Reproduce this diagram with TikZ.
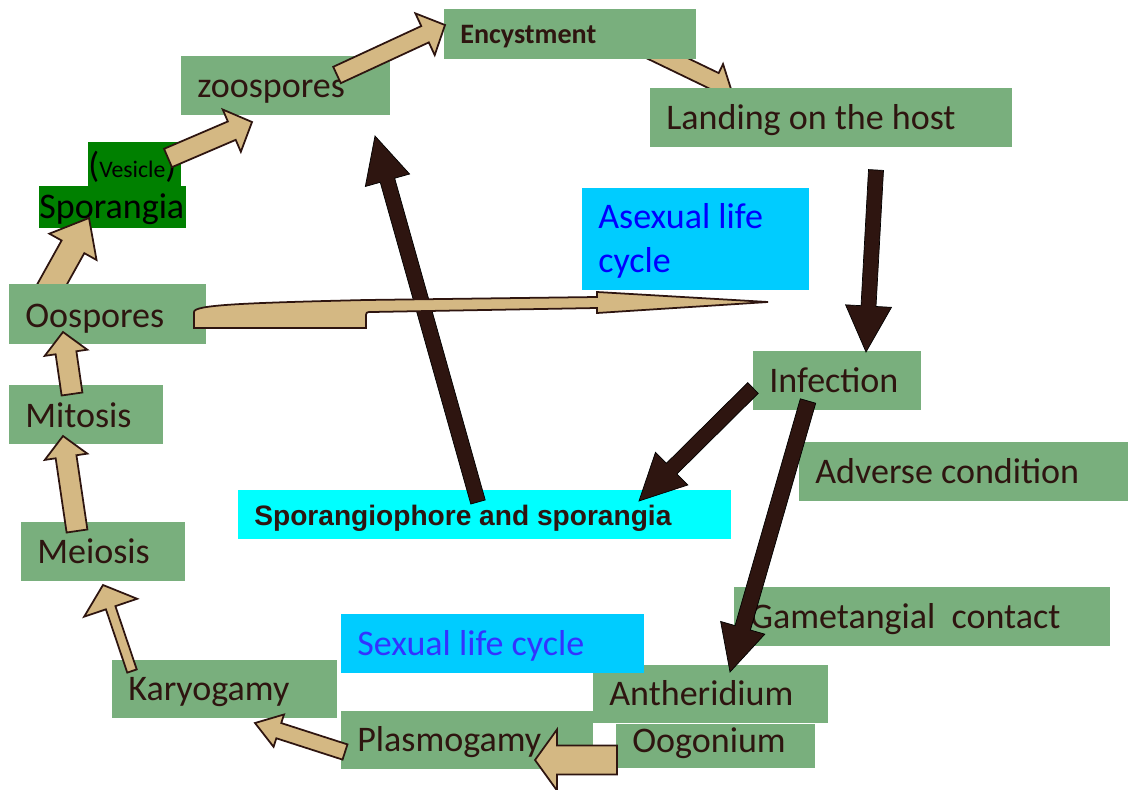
\documentclass[tikz,border=0pt]{standalone}
\usepackage{fontspec}
\setmainfont{Carlito}
\newfontfamily\arialfont{Liberation Sans}
\usepackage{tikz}
\usetikzlibrary{calc}
\usepackage{xcolor}

\definecolor{boxgreen}{HTML}{79AF7D}
\definecolor{sporegreen}{HTML}{008000}
\definecolor{skycyan}{HTML}{00CCFF}
\definecolor{brightcyan}{HTML}{00FFFF}
\definecolor{arrowtan}{HTML}{D4B883}
\definecolor{ink}{HTML}{2E1510}
\definecolor{lifeblue}{HTML}{0000FF}
\definecolor{sexblue}{HTML}{3333FF}

% block arrow: [style]{tail}{tip}{shaft half width}{head half width}{head length}
\newcommand{\blockarrow}[6][tanarrow]{%
  \coordinate (bah) at ($(#3)!#6!(#2)$);
  \filldraw[#1] ($(#2)!#4!90:(#3)$) -- ($(bah)!#4!90:(#3)$) -- ($(bah)!#5!90:(#3)$) -- (#3)
    -- ($(bah)!#5!-90:(#3)$) -- ($(bah)!#4!-90:(#3)$) -- ($(#2)!#4!-90:(#3)$) -- cycle;
}

\begin{document}
\begin{tikzpicture}[x=0.02cm, y=-0.02cm,
    greenbox/.style={fill=boxgreen, text=ink, anchor=north west, inner xsep=0.32cm, inner ysep=0pt,
      align=flush left, text height=0.82cm, text depth=0.36cm, font=\fontsize{20.5}{24.6}\selectfont},
    cyanbox/.style={greenbox, fill=skycyan},
    sporebox/.style={fill=sporegreen, text=black, anchor=north west, inner sep=0pt, align=flush left,
      font=\fontsize{20.5}{24.6}\selectfont},
    tanarrow/.style={fill=arrowtan, draw=ink, line width=1pt},
    darkarrow/.style={fill=ink}]
    \useasboundingbox (0,0) rectangle (1128,790);

    % Sporangia
    \node[sporebox, text width=1.86cm, text height=0.70cm, text depth=0.18cm] (vesi) at (88,142)
        {({\fontsize{13.5}{16}\selectfont Vesicle})};
    \node[sporebox, text width=2.94cm, text height=0.64cm, text depth=0.20cm] (spor) at (39,186) {Sporangia};
    \node[greenbox, fill=brightcyan, text width=9.22cm, text height=0.70cm, text depth=0.28cm,
        font=\fontsize{16}{19}\selectfont\arialfont\bfseries] (spph) at (238,490) {Sporangiophore and sporangia};

    % Arrows lying under the boxes
    \coordinate (spphTail) at (478,502);
    \coordinate (zooTip) at (375,136);
    \blockarrow[darkarrow]{spphTail}{zooTip}{0.15cm}{0.46cm}{0.92cm}
    \coordinate (oospTail) at (45,297);
    \coordinate (sporTip) at (89,218);
    \blockarrow{oospTail}{sporTip}{0.26cm}{0.54cm}{0.66cm}
    \coordinate (encTail) at (617,34);
    \coordinate (landTip) at (731,89);
    \blockarrow{encTail}{landTip}{0.18cm}{0.38cm}{0.36cm}

    % Stages
    \node[greenbox, text width=3.30cm, text height=0.86cm, text depth=0.34cm] (oosp) at (9,284) {Oospores};
    \node[greenbox, text width=3.54cm] (zoo) at (181,56) {zoospores};
    \node[greenbox, text width=4.40cm, text height=0.68cm, text depth=0.32cm,
        font=\fontsize{16}{19}\selectfont\bfseries] (enc) at (444,9) {Encystment};
    \node[greenbox, text width=6.60cm] (land) at (650,88) {Landing on the host};
    \node[cyanbox, text=lifeblue, text width=3.90cm, text height=0.80cm, text depth=1.24cm,
        font=\fontsize{20.5}{25}\selectfont] (asex) at (582,188) {Asexual life\\cycle};
    \node[greenbox, text width=2.72cm] (infe) at (753,351) {Infection};
    \node[greenbox, text width=5.94cm] (adve) at (799,442) {Adverse condition};
    \node[greenbox, text width=6.88cm] (game) at (734,587) {Gametangial\ \ contact};
    \node[greenbox, text width=4.06cm, text height=0.80cm] (anth) at (593,665) {Antheridium};
    \node[greenbox, text width=3.34cm, text height=0.56cm, text depth=0.32cm] (oogo) at (616,724) {Oogonium};
    \node[greenbox, text width=4.40cm, text height=0.80cm] (plas) at (341,711) {Plasmogamy};
    \node[greenbox, text width=3.86cm, text height=0.80cm] (kary) at (112,660) {Karyogamy};
    \node[cyanbox, text=sexblue, text width=5.42cm] (sexu) at (341,614) {Sexual life cycle};
    \node[greenbox, text width=2.64cm] (meio) at (21,522) {Meiosis};
    \node[greenbox, text width=2.44cm, text height=0.84cm, text depth=0.34cm] (mito) at (9,385) {Mitosis};

    % Asexual cycle
    \filldraw[tanarrow] (194,328) -- (194,312) .. controls (194,305) and (240,303) .. (366,300)
        -- (597,297) -- (597,292) -- (768,302) -- (597,313) -- (597,308) -- (372,312)
        .. controls (366,312) .. (366,318) -- (366,328) -- cycle;
    \coordinate (vesiTail) at (168,158);
    \coordinate (zooIn) at (252,122);
    \blockarrow{vesiTail}{zooIn}{0.20cm}{0.46cm}{0.44cm}
    \coordinate (zooTail) at (337,75);
    \coordinate (encTip) at (445,25);
    \blockarrow{zooTail}{encTip}{0.18cm}{0.46cm}{0.44cm}
    \coordinate (landTail) at (876,170);
    \coordinate (infeTip) at (866,352);
    \blockarrow[darkarrow]{landTail}{infeTip}{0.15cm}{0.46cm}{0.92cm}
    \coordinate (infeLeft) at (753,388);
    \coordinate (spphTip) at (639,501);
    \blockarrow[darkarrow]{infeLeft}{spphTip}{0.15cm}{0.46cm}{0.92cm}

    % Sexual cycle
    \coordinate (infeDown) at (808,401);
    \coordinate (anthTip) at (730,672);
    \blockarrow[darkarrow]{infeDown}{anthTip}{0.16cm}{0.46cm}{0.92cm}
    \coordinate (oogoTail) at (617,760);
    \coordinate (plasTip) at (535,760);
    \blockarrow{oogoTail}{plasTip}{0.29cm}{0.61cm}{0.44cm}
    \coordinate (plasTail) at (345,752);
    \coordinate (karyTip) at (255,723);
    \blockarrow{plasTail}{karyTip}{0.16cm}{0.34cm}{0.50cm}
    \coordinate (karyTail) at (132,671);
    \coordinate (meioTip) at (103,585);
    \blockarrow{karyTail}{meioTip}{0.10cm}{0.56cm}{0.48cm}
    \coordinate (meioTail) at (77,531);
    \coordinate (mitoTip) at (63,436);
    \blockarrow{meioTail}{mitoTip}{0.21cm}{0.43cm}{0.42cm}
    \coordinate (mitoTail) at (72,394);
    \coordinate (oospTip) at (63,332);
    \blockarrow{mitoTail}{oospTip}{0.21cm}{0.43cm}{0.42cm}
\end{tikzpicture}
\end{document}
